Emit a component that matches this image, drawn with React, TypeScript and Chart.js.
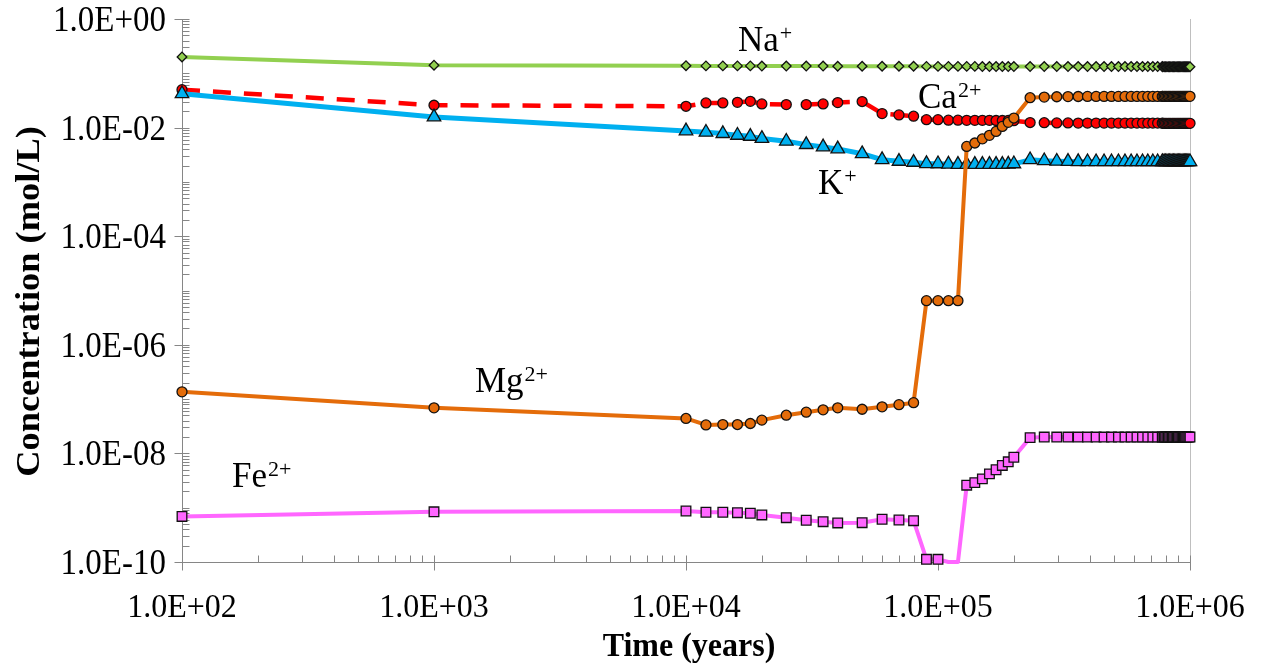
import { useEffect, useRef } from 'react';
import { Chart, registerables } from 'chart.js';

Chart.register(...registerables);

// ---------- data ----------
const times = [
  100, 1000, 10000, 12000, 14000, 16000, 18000, 20000, 25000, 30000, 35000, 40000, 50000, 60000,
  70000, 80000, 90000, 100000, 110000, 120000, 130000, 140000, 150000, 160000, 170000, 180000, 190000, 200000,
  232000, 264000, 296000, 328000, 360000, 392000, 424000, 456000, 488000, 520000, 552000, 584000,
  616000, 648000, 680000, 712000, 744000, 776000,
  780000, 790000, 800000, 810000, 820000, 830000, 840000, 850000, 860000, 870000, 880000, 890000,
  900000, 910000, 920000, 930000, 940000, 950000, 960000, 970000, 980000, 990000, 1000000,
];

const naValues = [
  0.200, 0.141, 0.138, 0.137, 0.137, 0.137, 0.137, 0.136, 0.136, 0.136, 0.136, 0.135, 0.135, 0.135,
  0.135, 0.135, 0.134, 0.134, 0.134, 0.134, 0.134, 0.134, 0.133, 0.133, 0.133, 0.133, 0.133, 0.133,
  0.133, 0.133, 0.133, 0.133, 0.133, 0.133, 0.133, 0.133, 0.133, 0.133, 0.133, 0.133,
  0.133, 0.133, 0.133, 0.133, 0.133, 0.133,
  0.132, 0.132, 0.132, 0.132, 0.132, 0.132, 0.132, 0.132, 0.132, 0.132, 0.132, 0.132,
  0.132, 0.132, 0.132, 0.132, 0.132, 0.132, 0.132, 0.132, 0.132, 0.132, 0.132,
];

const caValues = [
  0.0500, 0.0258, 0.0247, 0.0285, 0.0285, 0.0292, 0.0305, 0.0273, 0.0265, 0.0265, 0.0273, 0.0289, 0.0302, 0.0181,
  0.0171, 0.0162, 0.0140, 0.0140, 0.0137, 0.0137, 0.0136, 0.0136, 0.0136, 0.0136, 0.0135, 0.0135, 0.0135, 0.0134,
  0.0124, 0.0123, 0.0122, 0.0122, 0.0121, 0.0121, 0.0121, 0.0121, 0.0121, 0.0121, 0.0121, 0.0121,
  0.0121, 0.0121, 0.0121, 0.0121, 0.0121, 0.0121,
  0.0120, 0.0120, 0.0120, 0.0120, 0.0120, 0.0120, 0.0120, 0.0120, 0.0120, 0.0120, 0.0120, 0.0120,
  0.0120, 0.0120, 0.0120, 0.0120, 0.0120, 0.0120, 0.0120, 0.0120, 0.0120, 0.0120, 0.0120,
];

const mgValues = [
  1.36e-7, 6.9e-8, 4.4e-8, 3.35e-8, 3.4e-8, 3.4e-8, 3.55e-8, 4.1e-8, 5.05e-8, 5.75e-8, 6.35e-8, 6.9e-8, 6.5e-8, 7.2e-8,
  7.9e-8, 8.6e-8, 6.5e-6, 6.5e-6, 6.5e-6, 6.5e-6, 4.5e-3, 5.2e-3, 6.2e-3, 7.2e-3, 8.5e-3, 1.05e-2, 1.25e-2, 1.5e-2,
  0.0355, 0.0365, 0.0370, 0.0372, 0.0374, 0.0375, 0.0375, 0.0375, 0.0375, 0.0375, 0.0375, 0.0375,
  0.0375, 0.0375, 0.0375, 0.0375, 0.0375, 0.0375,
  0.0376, 0.0376, 0.0376, 0.0376, 0.0376, 0.0376, 0.0376, 0.0376, 0.0376, 0.0376, 0.0376, 0.0376,
  0.0376, 0.0376, 0.0376, 0.0376, 0.0376, 0.0376, 0.0376, 0.0376, 0.0376, 0.0376, 0.0376,
];

const kValues = [
  4.2e-2, 1.57e-2, 8.7e-3, 8.2e-3, 7.75e-3, 7.2e-3, 6.9e-3, 6.3e-3, 5.6e-3, 4.86e-3, 4.4e-3, 4.05e-3, 3.3e-3, 2.57e-3,
  2.39e-3, 2.29e-3, 2.17e-3, 2.15e-3, 2.12e-3, 2.10e-3, 2.10e-3, 2.10e-3, 2.10e-3, 2.10e-3, 2.10e-3, 2.10e-3, 2.12e-3, 2.15e-3,
  2.55e-3, 2.45e-3, 2.40e-3, 2.38e-3, 2.36e-3, 2.35e-3, 2.35e-3, 2.35e-3, 2.35e-3, 2.35e-3, 2.35e-3, 2.35e-3,
  2.35e-3, 2.35e-3, 2.35e-3, 2.35e-3, 2.35e-3, 2.35e-3,
  2.35e-3, 2.35e-3, 2.35e-3, 2.35e-3, 2.35e-3, 2.35e-3, 2.35e-3, 2.35e-3, 2.35e-3, 2.35e-3, 2.35e-3, 2.35e-3,
  2.35e-3, 2.35e-3, 2.35e-3, 2.35e-3, 2.35e-3, 2.35e-3, 2.35e-3, 2.35e-3, 2.35e-3, 2.35e-3, 2.35e-3,
];

const feValues = [
  6.9e-10, 8.4e-10, 8.7e-10, 8.24e-10, 8.24e-10, 8.1e-10, 7.9e-10, 7.35e-10, 6.55e-10, 5.87e-10, 5.53e-10, 5.24e-10, 5.3e-10, 6.12e-10,
  5.94e-10, 5.77e-10, 1.12e-10, 1.12e-10, 1e-10, 1e-10, 2.6e-9, 2.9e-9, 3.4e-9, 4.2e-9, 5.0e-9, 6.0e-9, 7.0e-9, 8.5e-9,
  1.95e-8, 2.0e-8, 2.0e-8, 2.0e-8, 2.0e-8, 2.0e-8, 2.0e-8, 2.0e-8, 2.0e-8, 2.0e-8, 2.0e-8, 2.0e-8,
  2.0e-8, 2.0e-8, 2.0e-8, 2.0e-8, 2.0e-8, 2.0e-8,
  2.0e-8, 2.0e-8, 2.0e-8, 2.0e-8, 2.0e-8, 2.0e-8, 2.0e-8, 2.0e-8, 2.0e-8, 2.0e-8, 2.0e-8, 2.0e-8,
  2.0e-8, 2.0e-8, 2.0e-8, 2.0e-8, 2.0e-8, 2.0e-8, 2.0e-8, 2.0e-8, 2.0e-8, 2.0e-8, 2.0e-8,
];

const xTickValues = [1e2, 1e3, 1e4, 1e5, 1e6];
const xTickLabels = ['1.0E+02', '1.0E+03', '1.0E+04', '1.0E+05', '1.0E+06'];
const yTickValues = [1e0, 1e-2, 1e-4, 1e-6, 1e-8, 1e-10];
const yTickLabels = ['1.0E+00', '1.0E-02', '1.0E-04', '1.0E-06', '1.0E-08', '1.0E-10'];

const xTitle = 'Time (years)';
const yTitle = 'Concentration (mol/L)';

const ionLabels = [
  { base: 'Na', sup: '+', px: 738, py: 51 },
  { base: 'Ca', sup: '2+', px: 918, py: 108 },
  { base: 'K', sup: '+', px: 818, py: 194 },
  { base: 'Mg', sup: '2+', px: 475, py: 392 },
  { base: 'Fe', sup: '2+', px: 232, py: 487 },
];

const SERIF = '"Liberation Serif", "Times New Roman", Times, serif';

function stretchedText(ctx: CanvasRenderingContext2D, text: string, x: number, y: number, sy: number) {
  ctx.save();
  ctx.translate(x, y);
  ctx.scale(1, sy);
  ctx.fillText(text, 0, 0);
  ctx.restore();
}

export default function App() {
  const ref = useRef<HTMLCanvasElement>(null);

  useEffect(() => {
    const canvas = ref.current;
    if (!canvas) return;
    const pts = (vals: number[]) => times.map((t, i) => ({ x: t, y: vals[i] }));

    const axesPlugin = {
      id: 'excelAxes',
      beforeDatasetsDraw(chart: any) {
        const { ctx, chartArea: a, scales } = chart;
        const xs = scales.x;
        const ys = scales.y;
        ctx.save();
        ctx.lineWidth = 1;
        ctx.strokeStyle = '#BFBFBF';
        ctx.beginPath();
        ctx.moveTo(Math.round(a.right) + 0.5, a.top);
        ctx.lineTo(Math.round(a.right) + 0.5, a.bottom);
        ctx.stroke();

        ctx.strokeStyle = '#868686';
        ctx.beginPath();
        const lx = Math.round(a.left) + 0.5;
        const by = Math.round(a.bottom) + 0.5;
        ctx.moveTo(lx, a.top);
        ctx.lineTo(lx, by);
        ctx.moveTo(lx, by);
        ctx.lineTo(a.right, by);
        for (let e = 2; e < 6; e++) {
          for (let k = 2; k <= 9; k++) {
            const px = Math.round(xs.getPixelForValue(k * Math.pow(10, e))) + 0.5;
            ctx.moveTo(px, by);
            ctx.lineTo(px, by - 7);
          }
        }
        for (const v of xTickValues) {
          const px = Math.round(xs.getPixelForValue(v)) + 0.5;
          ctx.moveTo(px, by - 7);
          ctx.lineTo(px, by + 8);
        }
        for (let e = -10; e < 0; e++) {
          for (let k = 1; k <= 9; k++) {
            if (k === 1 && e % 2 === 0) continue;
            const py = Math.round(ys.getPixelForValue(k * Math.pow(10, e))) + 0.5;
            ctx.moveTo(lx, py);
            ctx.lineTo(lx + 7, py);
          }
        }
        for (const v of yTickValues) {
          const py = Math.round(ys.getPixelForValue(v)) + 0.5;
          ctx.moveTo(lx - 8, py);
          ctx.lineTo(lx + 7, py);
        }
        ctx.stroke();
        ctx.restore();
      },
      afterDraw(chart: any) {
        const { ctx, chartArea: a, scales } = chart;
        const xs = scales.x;
        const ys = scales.y;
        ctx.save();
        ctx.fillStyle = '#000';
        ctx.textBaseline = 'alphabetic';
        ctx.font = `33px ${SERIF}`;
        ctx.textAlign = 'right';
        yTickValues.forEach((v, i) => {
          stretchedText(ctx, yTickLabels[i], a.left - 16, ys.getPixelForValue(v) + 12, 1.06);
        });
        ctx.font = `32px ${SERIF}`;
        ctx.textAlign = 'center';
        xTickValues.forEach((v, i) => {
          stretchedText(ctx, xTickLabels[i], xs.getPixelForValue(v), a.bottom + 55, 1.08);
        });
        ctx.font = `bold 32px ${SERIF}`;
        stretchedText(ctx, xTitle, (a.left + a.right) / 2 + 3, 656, 1.06);
        ctx.save();
        ctx.translate(39, (a.top + a.bottom) / 2 + 11);
        ctx.rotate(-Math.PI / 2);
        ctx.font = `bold 34px ${SERIF}`;
        ctx.scale(1.07, 1);
        ctx.fillText(yTitle, 0, 0);
        ctx.restore();

        ctx.textAlign = 'left';
        for (const l of ionLabels) {
          ctx.font = `35px ${SERIF}`;
          ctx.fillText(l.base, l.px, l.py);
          const w = ctx.measureText(l.base).width;
          ctx.font = `22px ${SERIF}`;
          ctx.fillText(l.sup, l.px + w + 1, l.py - 11);
        }
        ctx.restore();
      },
    };

    const common = {
      tension: 0,
      clip: false as const,
      pointBorderColor: '#111111',
      pointBorderWidth: 1.3,
      borderJoinStyle: 'round' as const,
    };

    const chart = new Chart(canvas, {
      type: 'line',
      data: {
        datasets: [
          {
            ...common,
            label: 'Mg2+',
            data: pts(mgValues),
            borderColor: '#E46C0A',
            backgroundColor: '#E46C0A',
            borderWidth: 4,
            pointStyle: 'circle',
            pointRadius: 5,
            order: 0,
          },
          {
            ...common,
            label: 'Fe2+',
            data: pts(feValues),
            borderColor: '#FF66FF',
            backgroundColor: '#FF66FF',
            borderWidth: 4,
            pointStyle: 'rect',
            pointRadius: (c: any) => (feValues[c.dataIndex] <= 1e-10 ? 0 : 6.8),
            order: 1,
          },
          {
            ...common,
            label: 'K+',
            data: pts(kValues),
            borderColor: '#00B0F0',
            backgroundColor: '#00B0F0',
            borderWidth: 5,
            pointStyle: 'triangle',
            pointRadius: 7.8,
            order: 2,
          },
          {
            ...common,
            label: 'Ca2+',
            data: pts(caValues),
            borderColor: '#FF0000',
            backgroundColor: '#FF0000',
            borderWidth: 4.5,
            borderDash: [18, 13],
            pointStyle: 'circle',
            pointRadius: 5,
            order: 3,
          },
          {
            ...common,
            label: 'Na+',
            data: pts(naValues),
            borderColor: '#92D050',
            backgroundColor: '#92D050',
            borderWidth: 4,
            pointStyle: 'rectRot',
            pointRadius: 4.8,
            order: 4,
          },
        ],
      },
      options: {
        animation: false,
        responsive: true,
        maintainAspectRatio: false,
        layout: { padding: { top: 19, right: 74, left: 0, bottom: 0 } },
        plugins: { legend: { display: false }, tooltip: { enabled: false } },
        scales: {
          x: {
            type: 'logarithmic',
            min: 100,
            max: 1e6,
            grid: { display: false, drawTicks: false },
            border: { display: false },
            ticks: { display: false },
            afterFit: (s: any) => {
              s.height = 107;
            },
          },
          y: {
            type: 'logarithmic',
            min: 1e-10,
            max: 1,
            grid: { display: false, drawTicks: false },
            border: { display: false },
            ticks: { display: false },
            afterFit: (s: any) => {
              s.width = 182;
            },
          },
        },
      },
      plugins: [axesPlugin],
    } as any);

    return () => chart.destroy();
  }, []);

  return (
    <div style={{ position: 'fixed', left: 0, top: 0, width: '1264px', height: '669px', background: '#fff' }}>
      <canvas ref={ref} />
    </div>
  );
}
